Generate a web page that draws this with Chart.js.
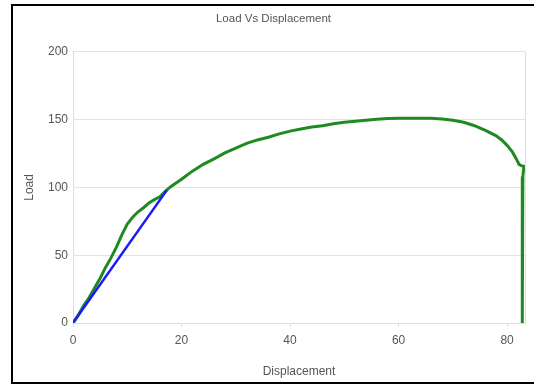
<!DOCTYPE html>
<html>
<head>
<meta charset="utf-8">
<script src="https://cdn.jsdelivr.net/npm/chart.js@4.4.1/dist/chart.umd.min.js"></script>
<style>
  body { margin: 0; background: #fff; overflow: hidden; }
  #frame {
    position: absolute; left: 11px; top: 4px;
    width: 560px; height: 380px;
    border: 2px solid #000; box-sizing: border-box;
  }
  #loadChart { position: absolute; left: 0; top: 0; }
</style>
</head>
<body>
<div id="frame"></div>
<canvas id="loadChart" width="534" height="385"></canvas>
<script>
const displacement = [0, 1, 2, 3, 4, 5, 6, 7, 8, 9, 10, 11, 12, 13, 14, 15, 16, 17, 18, 20,
  22, 24, 26, 28, 30, 32, 34, 36, 38, 40, 42, 44, 46, 48, 50, 52, 54, 56, 58, 60,
  62, 64, 66, 68, 70, 72, 74, 76, 78, 79, 80, 81, 81.7, 82.2, 82.6, 83.1, 82.9, 82.8, 82.8];
const load = [0, 6, 13, 19, 26, 33, 41, 48, 56, 65, 73, 78, 82, 85, 88.5, 91, 93, 97, 100.5, 106,
  112, 117, 121, 125.5, 129, 132.5, 135, 137, 139.5, 141.5, 143, 144.5, 145.5, 147, 148, 148.8, 149.5, 150.2, 150.8, 151,
  151, 151, 151, 150.5, 149.5, 148, 145.5, 142, 138, 135, 131, 126, 121, 117, 116, 115.5, 108, 100, 0];

// elastic slope line
const slopeX = [0, 17.3];
const slopeY = [0, 98];

const xTicks = [0, 20, 40, 60, 80];
const yTicks = [0, 50, 100, 150, 200];

const font = '"Liberation Sans", Arial, sans-serif';

const rightEdge = {
  id: 'rightEdge',
  beforeDatasetsDraw(chart) {
    const { ctx, chartArea: a } = chart;
    ctx.save();
    ctx.strokeStyle = '#dedede';
    ctx.lineWidth = 1;
    ctx.beginPath();
    ctx.moveTo(Math.round(a.right) + 0.5, a.top);
    ctx.lineTo(Math.round(a.right) + 0.5, a.bottom);
    ctx.stroke();
    ctx.restore();
  }
};

new Chart(document.getElementById('loadChart'), {
  type: 'scatter',
  data: {
    datasets: [{
      label: 'Load',
      data: displacement.map((x, i) => ({ x: x, y: load[i] })),
      showLine: true,
      borderColor: '#1f8a1f',
      borderWidth: 3,
      pointRadius: 0,
      order: 1
    }, {
      label: 'Slope',
      data: slopeX.map((x, i) => ({ x: x, y: slopeY[i] })),
      showLine: true,
      borderColor: '#1a1aff',
      borderWidth: 2.5,
      pointRadius: 0,
      order: 0
    }]
  },
  options: {
    responsive: false,
    animation: false,
    layout: { padding: { left: 22, right: 9, top: 0, bottom: 6 } },
    plugins: {
      legend: { display: false },
      tooltip: { enabled: false },
      title: {
        display: true,
        text: 'Load Vs Displacement',
        color: '#555',
        font: { family: font, size: 11.5, weight: 'normal' },
        padding: { top: 12, bottom: 26 }
      }
    },
    scales: {
      x: {
        type: 'linear',
        min: 0,
        max: 83.3,
        afterBuildTicks: axis => { axis.ticks = xTicks.map(v => ({ value: v })); },
        afterFit: scale => { scale.height = 56; },
        grid: { drawOnChartArea: false, drawTicks: true, tickLength: 4, color: '#dedede' },
        border: { color: '#dedede' },
        ticks: { color: '#555', padding: 6, maxRotation: 0, font: { family: font, size: 12 } },
        title: { display: true, text: 'Displacement', color: '#555', padding: 0, font: { family: font, size: 12 } }
      },
      y: {
        min: 0,
        max: 200,
        afterBuildTicks: axis => { axis.ticks = yTicks.map(v => ({ value: v })); },
        afterFit: scale => { scale.width = 51; },
        grid: { drawTicks: false, color: '#e3e3e3' },
        border: { color: '#dedede' },
        ticks: { color: '#555', padding: 5, font: { family: font, size: 12 } },
        title: { display: true, text: 'Load', color: '#555', padding: 0, font: { family: font, size: 12 } }
      }
    }
  },
  plugins: [rightEdge]
});
</script>
</body>
</html>
